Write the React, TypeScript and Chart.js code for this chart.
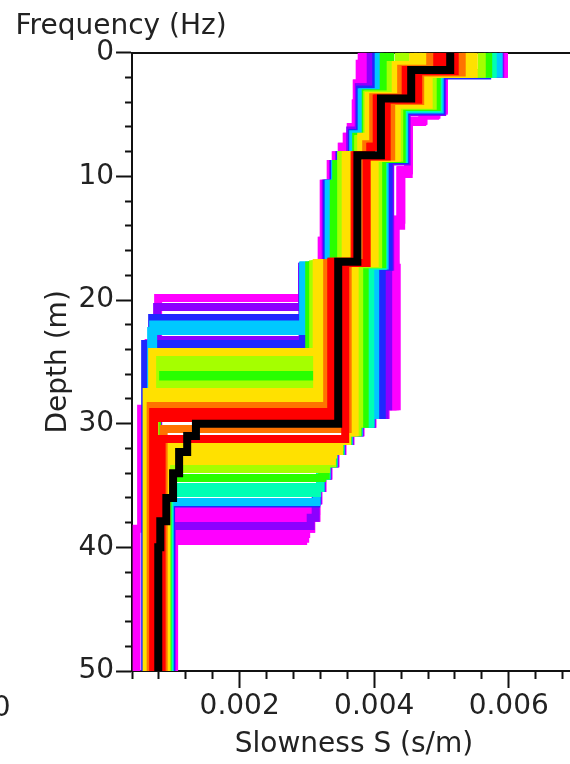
import React, { useEffect, useRef } from 'react';
import { Chart, registerables } from 'chart.js';

Chart.register(...registerables);

const FONT_FAMILY = '"DejaVu Sans", "Liberation Sans", sans-serif';
const TEXT_COLOR = '#222222';
const AXIS_COLOR = '#111111';

// Each profile: list of layers [slowness (s/m), bottom depth (m)], from the surface down.
// ---- magenta (worst misfit) ----
const magentaL1 = [[0.003814, 0.9], [0.003784, 2.5], [0.00374, 4.1], [0.003725, 6.0], [0.003651, 6.8], [0.003591, 7.6], [0.003517, 8.3], [0.003428, 9.0], [0.003353, 10.6], [0.003249, 15.2], [0.003219, 17.6], [0.002929, 19.84], [0.000788, 50]];
const magentaL2 = [[0.003829, 0.9], [0.003814, 2.5], [0.003747, 4.1], [0.003732, 6.0], [0.003658, 6.8], [0.003599, 7.6], [0.003524, 8.3], [0.003435, 9.0], [0.003361, 10.6], [0.003257, 15.2], [0.003227, 17.6], [0.002937, 28.8], [0.000535, 38.5], [0.000468, 50]];
const magentaL3 = [[0.003859, 0.9], [0.003851, 2.6], [0.003762, 4.2], [0.003747, 6.2], [0.003673, 7.0], [0.003613, 7.8], [0.003539, 8.4], [0.00345, 9.2], [0.003375, 10.8], [0.003271, 15.4], [0.003234, 17.6], [0.002944, 23.47], [0.000647, 50]];
const magentaR1 = [[0.005926, 1.7], [0.005034, 4.6], [0.004922, 5.0], [0.004729, 5.5], [0.004513, 9.5], [0.004401, 13.5], [0.00429, 17.2], [0.004268, 28.6], [0.004164, 29.3], [0.00397, 30.0], [0.003792, 30.7], [0.003643, 31.4], [0.003524, 32.2], [0.00342, 33.2], [0.003316, 34.2], [0.003227, 35.2], [0.003167, 36.2], [0.003138, 37.06], [0.001004, 50]];
const magentaR2 = [[0.005918, 1.7], [0.005034, 4.6], [0.004922, 5.0], [0.004729, 5.5], [0.004513, 9.5], [0.004401, 13.5], [0.00429, 17.2], [0.004283, 28.6], [0.004164, 29.3], [0.00397, 30.0], [0.003792, 30.7], [0.003643, 31.4], [0.003524, 32.2], [0.00342, 33.2], [0.003316, 34.2], [0.003227, 35.2], [0.003167, 36.2], [0.003138, 37.63], [0.001011, 50]];
const magentaR3 = [[0.005926, 1.7], [0.005026, 4.6], [0.004922, 5.0], [0.004729, 5.5], [0.004506, 9.5], [0.004387, 13.5], [0.004297, 17.2], [0.004312, 28.6], [0.004164, 29.3], [0.00397, 30.0], [0.003792, 30.7], [0.003643, 31.4], [0.003524, 32.2], [0.00342, 33.2], [0.003316, 34.2], [0.003227, 35.2], [0.003167, 36.2], [0.003138, 37.6], [0.003063, 38.5], [0.002989, 38.92], [0.001019, 50]];
const magentaR4 = [[0.005926, 1.7], [0.005034, 4.7], [0.004907, 5.1], [0.004714, 5.6], [0.004513, 9.8], [0.004401, 14.0], [0.00432, 17.4], [0.004335, 28.6], [0.004164, 29.3], [0.00397, 30.0], [0.003792, 30.7], [0.003643, 31.4], [0.003524, 32.2], [0.00342, 33.2], [0.003316, 34.2], [0.003227, 35.2], [0.003167, 36.2], [0.003138, 37.6], [0.003063, 38.5], [0.002974, 39.3], [0.002944, 39.49], [0.001026, 50]];
// ---- purple ----
const purpleL1 = [[0.003948, 2.8], [0.00377, 6.3], [0.003643, 8.3], [0.00348, 9.0], [0.00339, 10.6], [0.003279, 17.3], [0.002929, 20.57], [0.000773, 50]];
const purpleL2 = [[0.00397, 2.8], [0.003777, 6.5], [0.003658, 8.3], [0.003487, 9.0], [0.003398, 10.6], [0.003286, 17.3], [0.002937, 23.23], [0.000788, 50]];
const purpleR1 = [[0.005874, 1.7], [0.005011, 4.8], [0.004483, 8.8], [0.004238, 17.3], [0.004208, 28.6], [0.004156, 29.3], [0.003963, 30.0], [0.003784, 30.7], [0.003636, 31.4], [0.003517, 32.2], [0.003413, 33.2], [0.003309, 34.2], [0.003219, 35.2], [0.00316, 36.2], [0.00313, 37.6], [0.003056, 38.28], [0.000989, 50]];
// ---- blue ----
const blueL1 = [[0.00403, 3.0], [0.003792, 6.5], [0.003673, 8.3], [0.003494, 9.0], [0.003405, 10.6], [0.003301, 17.3], [0.002937, 21.45], [0.000699, 50]];
const blueL2 = [[0.004045, 3.0], [0.003799, 6.6], [0.003673, 8.3], [0.003502, 9.0], [0.003413, 10.6], [0.003309, 17.3], [0.002944, 23.56], [0.000595, 50]];
const blueR1 = [[0.00568, 1.85], [0.004996, 4.7], [0.004461, 8.7], [0.004216, 17.3], [0.004112, 29.3], [0.003955, 30.0], [0.003777, 30.7], [0.003628, 31.4], [0.003509, 32.2], [0.003405, 33.2], [0.003301, 34.2], [0.003212, 35.2], [0.003152, 36.2], [0.003138, 36.45], [0.000981, 50]];
// ---- light blue ----
const cyanL1 = [[0.004067, 3.2], [0.003814, 6.6], [0.003688, 8.3], [0.003509, 9.0], [0.00342, 10.6], [0.003323, 17.2], [0.002944, 21.98], [0.000714, 50]];
const cyanL2 = [[0.004089, 3.2], [0.003836, 6.7], [0.003703, 8.3], [0.003517, 9.0], [0.003428, 10.6], [0.003346, 17.2], [0.002952, 22.5], [0.000684, 50]];
const cyanR1 = [[0.005851, 1.7], [0.004974, 4.6], [0.004446, 8.6], [0.004156, 17.2], [0.004015, 29.3], [0.003948, 30.0], [0.00377, 30.7], [0.003621, 31.4], [0.003502, 32.2], [0.003398, 33.2], [0.003294, 34.2], [0.003204, 35.2], [0.003145, 36.34], [0.000959, 50]];
// ---- aquamarine ----
const tealR1 = [[0.005747, 1.7], [0.004944, 4.5], [0.004424, 8.6], [0.004126, 17.2], [0.003911, 30.0], [0.003762, 30.7], [0.003613, 31.4], [0.003494, 32.2], [0.00339, 33.2], [0.003286, 34.2], [0.003197, 35.12], [0.000952, 50]];
const tealR2 = [[0.005762, 1.7], [0.004952, 4.5], [0.004431, 8.6], [0.004134, 17.2], [0.003941, 30.0], [0.003762, 30.7], [0.003613, 31.4], [0.003494, 32.2], [0.00339, 33.2], [0.003286, 34.2], [0.003197, 35.2], [0.003152, 35.61], [0.000952, 50]];
// ---- green ----
const greenL1 = [[0.004141, 3.3], [0.003874, 6.8], [0.003732, 8.3], [0.003524, 9.0], [0.003435, 10.6], [0.003398, 17.2], [0.003034, 25.9], [0.000758, 50]];
const greenL2 = [[0.004238, 1.2], [0.004186, 3.3], [0.003881, 6.9], [0.003747, 8.3], [0.003532, 9.0], [0.003457, 17.2], [0.003078, 26.31], [0.000773, 50]];
const greenR1 = [[0.005695, 1.7], [0.004929, 4.4], [0.004409, 8.6], [0.004119, 17.1], [0.003859, 30.0], [0.003755, 30.7], [0.003606, 31.4], [0.003487, 32.2], [0.003383, 33.2], [0.003279, 34.2], [0.003227, 34.4], [0.000929, 50]];
// ---- yellow-green ----
const limeL1 = [[0.004364, 1.0], [0.004245, 3.4], [0.003896, 7.0], [0.003762, 8.3], [0.003509, 17.1], [0.003093, 24.85], [0.000743, 50]];
const limeL2 = [[0.004416, 1.0], [0.004253, 3.4], [0.003911, 7.0], [0.00377, 8.3], [0.003524, 17.1], [0.003123, 25.42], [0.000743, 50]];
const limeL3 = [[0.004468, 1.1], [0.004268, 3.4], [0.003911, 7.0], [0.003777, 8.3], [0.003532, 17.1], [0.003167, 26.83], [0.000743, 50]];
const limeR1 = [[0.005599, 1.7], [0.00487, 4.3], [0.004372, 8.5], [0.004059, 17.1], [0.003777, 30.0], [0.003747, 30.7], [0.003599, 31.4], [0.00348, 32.2], [0.003375, 33.2], [0.003286, 33.66], [0.000915, 50]];
// ---- yellow ----
const yellowL1 = [[0.00458, 1.0], [0.00432, 3.5], [0.003918, 6.8], [0.003807, 8.3], [0.003576, 17.0], [0.003145, 24.2], [0.000699, 50]];
const yellowL2 = [[0.004654, 1.2], [0.004342, 3.5], [0.003941, 7.0], [0.003822, 8.3], [0.003599, 17.0], [0.003152, 27.44], [0.000617, 50]];
const yellowL3 = [[0.004729, 1.3], [0.004364, 3.5], [0.003955, 7.2], [0.003836, 8.3], [0.003621, 17.0], [0.003212, 28.04], [0.000654, 50]];
const yellowR1 = [[0.005368, 1.6], [0.004743, 4.0], [0.004283, 8.5], [0.003941, 17.0], [0.003658, 30.7], [0.003591, 31.4], [0.00348, 31.89], [0.0009, 50]];
const yellowR2 = [[0.005428, 1.7], [0.004773, 4.1], [0.004312, 8.5], [0.00397, 17.0], [0.003688, 30.7], [0.003591, 31.4], [0.003472, 32.2], [0.00339, 32.49], [0.0009, 50]];
const yellowR3 = [[0.00548, 1.7], [0.00481, 4.2], [0.004335, 8.5], [0.004007, 17.0], [0.00371, 30.7], [0.003591, 31.4], [0.003472, 32.2], [0.003368, 33.02], [0.000907, 50]];
// ---- orange ----
const orangeL1 = [[0.004833, 1.3], [0.004401, 3.6], [0.003985, 7.4], [0.003881, 8.3], [0.003703, 17.0], [0.003301, 28.57], [0.000677, 50]];
const orangeR1 = [[0.005301, 1.6], [0.004684, 3.9], [0.004253, 8.4], [0.003866, 17.0], [0.003606, 30.43], [0.00087, 50]];
// ---- red ----
const redL1 = [[0.004937, 1.4], [0.004468, 3.7], [0.004037, 7.6], [0.003941, 8.3], [0.003717, 16.9], [0.003361, 29.06], [0.000714, 50]];
const redL2 = [[0.005026, 1.4], [0.004483, 3.7], [0.004052, 7.6], [0.003955, 8.3], [0.003732, 16.9], [0.003375, 29.54], [0.000729, 50]];
const redR1 = [[0.005197, 1.5], [0.004654, 3.8], [0.004186, 8.4], [0.003888, 17.0], [0.003569, 31.24], [0.00084, 50]];
// ---- best model (black) ----
const bestModel = [[0.00513, 1.4], [0.00455, 3.7], [0.0041, 8.3], [0.00375, 16.9], [0.003465, 30.0], [0.00135, 31.0], [0.00122, 32.3], [0.0011, 34.0], [0.00101, 36.0], [0.00091, 37.9], [0.00082, 40.0], [0.00079, 50]];

// drawing order: worst misfit first, best model last
const profileGroups = [
  { color: '#ff00ff', profiles: [magentaL1, magentaL2, magentaL3, magentaR1, magentaR2, magentaR3, magentaR4] },
  { color: '#8c00ff', profiles: [purpleL1, purpleL2, purpleR1] },
  { color: '#1e28ff', profiles: [blueL1, blueL2, blueR1] },
  { color: '#00c8ff', profiles: [cyanL1, cyanL2, cyanR1] },
  { color: '#00ffb4', profiles: [tealR1, tealR2] },
  { color: '#28ff00', profiles: [greenL1, greenL2, greenR1] },
  { color: '#a5ff00', profiles: [limeL1, limeL2, limeL3, limeR1] },
  { color: '#ffe100', profiles: [yellowL1, yellowL2, yellowL3, yellowR1, yellowR2, yellowR3] },
  { color: '#ff7300', profiles: [orangeL1, orangeR1] },
  { color: '#ff0000', profiles: [redL1, redL2, redR1] },
  { color: '#000000', profiles: [bestModel] },
];

const xTickValues = [0.0004, 0.0008, 0.0012, 0.0016, 0.002, 0.0024, 0.0028, 0.0032, 0.0036, 0.004, 0.0044, 0.0048, 0.0052, 0.0056, 0.006, 0.0064, 0.0068];
const xLabelValues = [0.002, 0.004, 0.006];
const yTickValues = [0, 2, 4, 6, 8, 10, 12, 14, 16, 18, 20, 22, 24, 26, 28, 30, 32, 34, 36, 38, 40, 42, 44, 46, 48, 50];
const yLabelValues = [0, 10, 20, 30, 40, 50];

const X_MIN = 0.0004;
const X_MAX = 0.007;
const Y_MIN = 0;
const Y_MAX = 50;

function toPoints(layers: number[][]) {
  const pts: { x: number; y: number }[] = [];
  let top = 0;
  for (const [s, bottom] of layers) {
    pts.push({ x: s, y: top });
    pts.push({ x: s, y: bottom });
    top = bottom;
  }
  return pts;
}

const isXLabel = (v: number) => xLabelValues.some((l) => Math.abs(l - v) < 1e-9);
const isYLabel = (v: number) => yLabelValues.some((l) => Math.abs(l - v) < 1e-9);

const extraText = {
  id: 'extraText',
  afterDraw(chart: any) {
    const ctx = chart.ctx;
    ctx.save();
    ctx.font = `28px ${FONT_FAMILY}`;
    ctx.fillStyle = TEXT_COLOR;
    ctx.textBaseline = 'alphabetic';
    ctx.textAlign = 'left';
    ctx.fillText('Frequency (Hz)', 15.5, 33.5);
    ctx.textAlign = 'right';
    ctx.fillText('0', 10.5, 716);
    ctx.restore();
  },
};

export default function App() {
  const canvasRef = useRef<HTMLCanvasElement | null>(null);

  useEffect(() => {
    if (!canvasRef.current) return;
    const datasets: any[] = [];
    const total = profileGroups.reduce((n, g) => n + g.profiles.length, 0);
    let idx = 0;
    for (const group of profileGroups) {
      for (const p of group.profiles) {
        datasets.push({
          data: toPoints(p),
          borderColor: group.color,
          backgroundColor: group.color,
          borderWidth: 8,
          pointRadius: 0,
          pointHoverRadius: 0,
          fill: false,
          tension: 0,
          borderJoinStyle: 'miter',
          borderCapStyle: 'butt',
          order: total - idx,
        });
        idx++;
      }
    }

    const tickFont = { family: FONT_FAMILY, size: 28 };

    const chart = new Chart(canvasRef.current, {
      type: 'line',
      data: { datasets },
      plugins: [extraText],
      options: {
        responsive: false,
        animation: false,
        devicePixelRatio: 1,
        events: [],
        layout: { padding: { left: 0, top: 52.7, right: 24, bottom: 0 } },
        plugins: {
          legend: { display: false },
          tooltip: { enabled: false },
          title: { display: false },
        },
        scales: {
          x: {
            type: 'linear',
            position: 'bottom',
            min: X_MIN,
            max: X_MAX,
            afterBuildTicks: (scale: any) => {
              scale.ticks = xTickValues.map((v) => ({ value: v }));
            },
            ticks: {
              autoSkip: false,
              maxRotation: 0,
              minRotation: 0,
              padding: 2,
              color: TEXT_COLOR,
              font: tickFont,
              callback: (v: any) => (isXLabel(Number(v)) ? Number(v).toFixed(3) : ''),
            },
            grid: {
              display: true,
              drawOnChartArea: false,
              drawTicks: true,
              tickLength: 17,
              tickWidth: 2,
              tickColor: AXIS_COLOR,
              tickBorderDash: (c: any) => (c.tick && isXLabel(c.tick.value) ? [] : [7, 100]),
            },
            border: { display: true, color: AXIS_COLOR, width: 2 },
            title: {
              display: true,
              text: 'Slowness S (s/m)',
              color: TEXT_COLOR,
              font: tickFont,
              padding: { top: 2.8, bottom: 2 },
            },
          },
          xTop: {
            type: 'linear',
            position: 'top',
            min: X_MIN,
            max: X_MAX,
            ticks: { display: false },
            grid: { display: false, drawTicks: false, drawOnChartArea: false },
            border: { display: true, color: AXIS_COLOR, width: 2 },
          },
          y: {
            type: 'linear',
            position: 'left',
            min: Y_MIN,
            max: Y_MAX,
            reverse: true,
            afterBuildTicks: (scale: any) => {
              scale.ticks = yTickValues.map((v) => ({ value: v }));
            },
            ticks: {
              autoSkip: false,
              padding: 2,
              color: TEXT_COLOR,
              font: tickFont,
              callback: (v: any) => (isYLabel(Number(v)) ? String(Math.round(Number(v))) : ''),
            },
            grid: {
              display: true,
              drawOnChartArea: false,
              drawTicks: true,
              tickLength: 16,
              tickWidth: 2,
              tickColor: AXIS_COLOR,
              tickBorderDash: (c: any) => (c.tick && isYLabel(c.tick.value) ? [] : [0, 9, 7, 100]),
            },
            border: { display: true, color: AXIS_COLOR, width: 2 },
            title: {
              display: true,
              text: 'Depth (m)',
              color: TEXT_COLOR,
              font: tickFont,
              padding: { top: 41.7, bottom: 1.1 },
            },
          },
        },
      } as any,
    });
    return () => chart.destroy();
  }, []);

  return (
    <div
      style={{
        position: 'fixed',
        left: 0,
        top: 0,
        width: 570,
        height: 764,
        overflow: 'hidden',
        background: '#ffffff',
      }}
    >
      <canvas ref={canvasRef} width={600} height={764} style={{ display: 'block', width: 600, height: 764 }} />
    </div>
  );
}
